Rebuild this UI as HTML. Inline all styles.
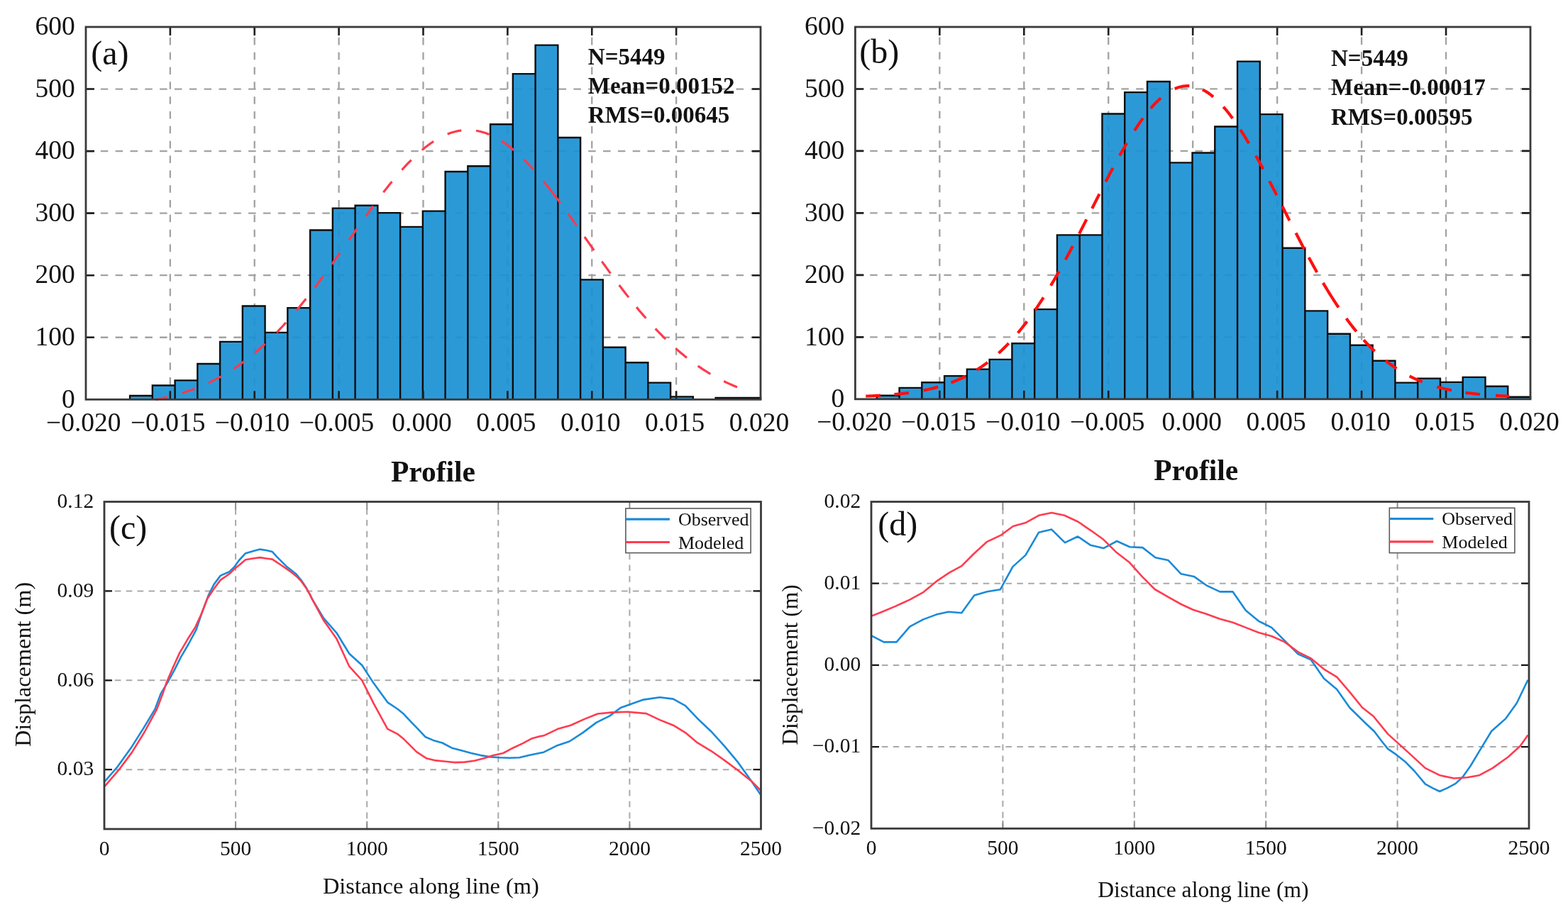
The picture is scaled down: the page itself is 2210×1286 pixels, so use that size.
<!DOCTYPE html>
<html><head><meta charset="utf-8"><title>Figure</title><style>html,body{margin:0;padding:0;background:#fff}svg{display:block}</style></head><body>
<svg width="2210" height="1286" viewBox="0 0 2210 1286">
<style>text{font-family:'Liberation Serif','Times New Roman',serif;fill:#111} .g{stroke:#a2a2a2;stroke-width:2.3;stroke-dasharray:10.5 10.33;fill:none} .g2{stroke:#a9a9a9;stroke-width:2.0;stroke-dasharray:8.6 7.27;fill:none} .ax{fill:none;stroke:#3a3a3a;stroke-width:2.8} .tk{stroke:#1e1e1e;stroke-width:2.6;fill:none}</style>
<rect width="2210" height="1286" fill="#fff"/>
<line x1="121" y1="475.75" x2="1072" y2="475.75" class="g"/>
<line x1="121" y1="388.2" x2="1072" y2="388.2" class="g"/>
<line x1="121" y1="300.65" x2="1072" y2="300.65" class="g"/>
<line x1="121" y1="213.1" x2="1072" y2="213.1" class="g"/>
<line x1="121" y1="125.55" x2="1072" y2="125.55" class="g"/>
<line x1="239.88" y1="563.3" x2="239.88" y2="38" class="g"/>
<line x1="358.75" y1="563.3" x2="358.75" y2="38" class="g"/>
<line x1="477.62" y1="563.3" x2="477.62" y2="38" class="g"/>
<line x1="596.5" y1="563.3" x2="596.5" y2="38" class="g"/>
<line x1="715.38" y1="563.3" x2="715.38" y2="38" class="g"/>
<line x1="834.25" y1="563.3" x2="834.25" y2="38" class="g"/>
<line x1="953.12" y1="563.3" x2="953.12" y2="38" class="g"/>
<path d="M183.1 563.3V558.05H214.85V563.3M214.85 563.3V543.43H246.6V563.3M246.6 563.3V536.42H278.35V563.3M278.35 563.3V512.96H310.1V563.3M310.1 563.3V481.88H341.85V563.3M341.85 563.3V431.54H373.6V563.3M373.6 563.3V468.83H405.35V563.3M405.35 563.3V434.08H437.1V563.3M437.1 563.3V324.55H468.85V563.3M468.85 563.3V293.65H500.6V563.3M500.6 563.3V289.71H532.35V563.3M532.35 563.3V300.12H564.1V563.3M564.1 563.3V319.91H595.85V563.3M595.85 563.3V297.59H627.6V563.3M627.6 563.3V241.99H659.35V563.3M659.35 563.3V234.29H691.1V563.3M691.1 563.3V175.19H722.85V563.3M722.85 563.3V104.1H754.6V563.3M754.6 563.3V63.65H786.35V563.3M786.35 563.3V194.01H818.1V563.3M818.1 563.3V394.33H849.85V563.3M849.85 563.3V489.76H881.6V563.3M881.6 563.3V511.21H913.35V563.3M913.35 563.3V539.66H945.1V563.3M945.1 563.3V559.36H976.85V563.3M1008.6 563.3V561.02H1040.35V563.3M1040.35 563.3V561.02H1072.1V563.3" fill="#1a90d4" fill-opacity="0.92" stroke="#0d0d0d" stroke-width="2.4" stroke-linejoin="miter"/>
<path d="M219 563.47L221.5 562.98L224 562.48L226.5 561.96L229 561.42L231.5 560.87L234 560.29L236.5 559.7M257 554.07L259.5 553.28L262 552.47L264.5 551.64L267 550.78L269.5 549.89L272 548.98L274.5 548.04M294 539.78L296.5 538.59L299 537.37L301.5 536.12L304 534.84L306.5 533.53L309 532.18L311.5 530.8M329 520.18L331.17 518.74L333.34 517.27L335.51 515.78L337.69 514.26L339.86 512.71L342.03 511.13L344.2 509.52M359.4 497.46L361.43 495.74L363.46 494L365.49 492.23L367.51 490.44L369.54 488.62L371.57 486.77L373.6 484.9M390 468.82L391.86 466.89L393.71 464.94L395.57 462.97L397.43 460.99L399.29 458.98L401.14 456.95L403 454.9M417.8 437.85L419.73 435.53L421.66 433.2L423.59 430.85L425.51 428.48L427.44 426.09L429.37 423.69L431.3 421.26M443.7 405.26L445.34 403.09L446.99 400.91L448.63 398.72L450.27 396.52L451.91 394.31L453.56 392.09L455.2 389.86M467.8 372.49L469.43 370.21L471.06 367.93L472.69 365.64L474.31 363.35L475.94 361.05L477.57 358.75L479.2 356.45M491.8 338.54L493.41 336.24L495.03 333.94L496.64 331.64L498.26 329.34L499.87 327.05L501.49 324.75L503.1 322.46M515.7 304.71L517.17 302.66L518.64 300.61L520.11 298.58L521.59 296.54L523.06 294.52L524.53 292.5L526 290.49M540.4 271.29L542.11 269.07L543.83 266.87L545.54 264.69L547.26 262.52L548.97 260.37L550.69 258.24L552.4 256.13M566.5 239.57L568.37 237.49L570.24 235.44L572.11 233.42L573.99 231.43L575.86 229.47L577.73 227.55L579.6 225.65M594.8 211.61L597.13 209.67L599.46 207.8L601.79 205.99L604.11 204.24L606.44 202.56L608.77 200.94L611.1 199.39M630.7 189.07L633.5 188L636.3 187.05L639.1 186.2L641.9 185.46L644.7 184.83L647.5 184.3L650.3 183.89M671 184.24L673.64 184.72L676.29 185.3L678.93 185.97L681.57 186.73L684.21 187.6L686.86 188.56L689.5 189.61M706.9 198.83L709.39 200.46L711.87 202.17L714.36 203.95L716.84 205.81L719.33 207.74L721.81 209.73L724.3 211.8M738.5 224.89L740.36 226.75L742.21 228.65L744.07 230.58L745.93 232.54L747.79 234.53L749.64 236.55L751.5 238.6M766 255.56L769.39 259.74L772.77 263.99L776.16 268.31L779.54 272.69L782.93 277.14L786.31 281.64L789.7 286.19M800.6 301.14L802.34 303.56L804.09 306L805.83 308.44L807.57 310.88L809.31 313.34L811.06 315.8L812.8 318.26M823.9 334.03L825.8 336.74L827.7 339.44L829.6 342.15L831.5 344.85L833.4 347.56L835.3 350.26L837.2 352.96M848.3 368.62L850.04 371.06L851.79 373.49L853.53 375.92L855.27 378.33L857.01 380.74L858.76 383.14L860.5 385.54M872.7 402L874.6 404.51L876.5 407.01L878.4 409.5L880.3 411.97L882.2 414.42L884.1 416.86L886 419.28M897.1 433.07L899 435.37L900.9 437.65L902.8 439.91L904.7 442.15L906.6 444.37L908.5 446.56L910.4 448.74M923.7 463.41L925.76 465.58L927.81 467.73L929.87 469.85L931.93 471.95L933.99 474.02L936.04 476.06L938.1 478.08M952.5 491.46L954.71 493.4L956.93 495.31L959.14 497.19L961.36 499.04L963.57 500.86L965.79 502.65L968 504.41M983.6 515.95L986.13 517.68L988.66 519.38L991.19 521.04L993.71 522.66L996.24 524.25L998.77 525.8L1001.3 527.31M1020.2 537.54L1022.89 538.84L1025.57 540.11L1028.26 541.34L1030.94 542.54L1033.63 543.71L1036.31 544.84L1039 545.94" fill="none" stroke="#ff3a4c" stroke-width="3.2" stroke-linecap="butt"/>
<path d="M239.88 563.3V551.3M239.88 38V50M358.75 563.3V551.3M358.75 38V50M477.62 563.3V551.3M477.62 38V50M596.5 563.3V551.3M596.5 38V50M715.38 563.3V551.3M715.38 38V50M834.25 563.3V551.3M834.25 38V50M953.12 563.3V551.3M953.12 38V50M121 475.75H133M1072 475.75H1060M121 388.2H133M1072 388.2H1060M121 300.65H133M1072 300.65H1060M121 213.1H133M1072 213.1H1060M121 125.55H133M1072 125.55H1060" class="tk"/>
<rect x="121" y="38" width="951" height="525.3" class="ax"/>
<text x="105.8" y="574.5" font-size="37.5" text-anchor="end" >0</text>
<text x="105.8" y="486.95" font-size="37.5" text-anchor="end" >100</text>
<text x="105.8" y="399.4" font-size="37.5" text-anchor="end" >200</text>
<text x="105.8" y="311.85" font-size="37.5" text-anchor="end" >300</text>
<text x="105.8" y="224.3" font-size="37.5" text-anchor="end" >400</text>
<text x="105.8" y="136.75" font-size="37.5" text-anchor="end" >500</text>
<text x="105.8" y="49.2" font-size="37.5" text-anchor="end" >600</text>
<text x="117.8" y="607.5" font-size="37.5" text-anchor="middle" >−0.020</text>
<text x="236.68" y="607.5" font-size="37.5" text-anchor="middle" >−0.015</text>
<text x="355.55" y="607.5" font-size="37.5" text-anchor="middle" >−0.010</text>
<text x="474.43" y="607.5" font-size="37.5" text-anchor="middle" >−0.005</text>
<text x="594.5" y="607.5" font-size="37.5" text-anchor="middle" >0.000</text>
<text x="713.38" y="607.5" font-size="37.5" text-anchor="middle" >0.005</text>
<text x="832.25" y="607.5" font-size="37.5" text-anchor="middle" >0.010</text>
<text x="951.12" y="607.5" font-size="37.5" text-anchor="middle" >0.015</text>
<text x="1070" y="607.5" font-size="37.5" text-anchor="middle" >0.020</text>
<text x="828.8" y="91.2" font-size="33" text-anchor="start" font-weight="bold" >N=5449</text>
<text x="828.8" y="132.4" font-size="33" text-anchor="start" font-weight="bold" >Mean=0.00152</text>
<text x="828.8" y="172.9" font-size="33" text-anchor="start" font-weight="bold" >RMS=0.00645</text>
<text x="128.3" y="91" font-size="48" text-anchor="start" >(a)</text>
<text x="610.5" y="678.9" font-size="41.5" text-anchor="middle" font-weight="bold" >Profile</text>
<line x1="1205.4" y1="475.33" x2="2157" y2="475.33" class="g"/>
<line x1="1205.4" y1="387.86" x2="2157" y2="387.86" class="g"/>
<line x1="1205.4" y1="300.39" x2="2157" y2="300.39" class="g"/>
<line x1="1205.4" y1="212.92" x2="2157" y2="212.92" class="g"/>
<line x1="1205.4" y1="125.45" x2="2157" y2="125.45" class="g"/>
<line x1="1324.35" y1="562.8" x2="1324.35" y2="38" class="g"/>
<line x1="1443.3" y1="562.8" x2="1443.3" y2="38" class="g"/>
<line x1="1562.25" y1="562.8" x2="1562.25" y2="38" class="g"/>
<line x1="1681.2" y1="562.8" x2="1681.2" y2="38" class="g"/>
<line x1="1800.15" y1="562.8" x2="1800.15" y2="38" class="g"/>
<line x1="1919.1" y1="562.8" x2="1919.1" y2="38" class="g"/>
<line x1="2038.05" y1="562.8" x2="2038.05" y2="38" class="g"/>
<path d="M1235.8 562.8V557.73H1267.57V562.8M1267.57 562.8V546.88H1299.33V562.8M1299.33 562.8V539.18H1331.1V562.8M1331.1 562.8V530.09H1362.86V562.8M1362.86 562.8V520.64H1394.63V562.8M1394.63 562.8V506.91H1426.4V562.8M1426.4 562.8V484.25H1458.16V562.8M1458.16 562.8V436.14H1489.93V562.8M1489.93 562.8V331.35H1521.69V562.8M1521.69 562.8V331.35H1553.46V562.8M1553.46 562.8V160.53H1585.23V562.8M1585.23 562.8V130.17H1616.99V562.8M1616.99 562.8V114.95H1648.76V562.8M1648.76 562.8V229.36H1680.52V562.8M1680.52 562.8V215.54H1712.29V562.8M1712.29 562.8V178.54H1744.06V562.8M1744.06 562.8V86.61H1775.82V562.8M1775.82 562.8V161.14H1807.59V562.8M1807.59 562.8V349.81H1839.35V562.8M1839.35 562.8V438.42H1871.12V562.8M1871.12 562.8V470.78H1902.89V562.8M1902.89 562.8V486.79H1934.65V562.8M1934.65 562.8V508.74H1966.42V562.8M1966.42 562.8V539.62H1998.18V562.8M1998.18 562.8V533.67H2029.95V562.8M2029.95 562.8V538.83H2061.72V562.8M2061.72 562.8V531.84H2093.48V562.8M2093.48 562.8V544.78H2125.25V562.8M2125.25 562.8V559.74H2157.01V562.8" fill="#1a90d4" fill-opacity="0.92" stroke="#0d0d0d" stroke-width="2.4" stroke-linejoin="miter"/>
<path d="M1220.3 558.62L1223.26 558.5L1226.21 558.38L1229.17 558.24L1232.13 558.1L1235.09 557.95L1238.04 557.79L1241 557.62M1260.4 556.18L1263.34 555.91L1266.29 555.62L1269.23 555.31L1272.17 554.98L1275.11 554.64L1278.06 554.27L1281 553.88M1301.7 550.47L1304.64 549.87L1307.59 549.24L1310.53 548.57L1313.47 547.87L1316.41 547.14L1319.36 546.37L1322.3 545.56M1340.4 539.62L1343.34 538.49L1346.29 537.3L1349.23 536.07L1352.17 534.77L1355.11 533.42L1358.06 532.01L1361 530.54M1376.5 521.74L1378.71 520.32L1380.93 518.87L1383.14 517.37L1385.36 515.84L1387.57 514.26L1389.79 512.63L1392 510.96M1407.5 498L1409.53 496.13L1411.56 494.22L1413.59 492.27L1415.61 490.27L1417.64 488.23L1419.67 486.15L1421.7 484.03M1434.6 469.51L1436.44 467.3L1438.29 465.04L1440.13 462.75L1441.97 460.42L1443.81 458.05L1445.66 455.65L1447.5 453.21M1459.1 437.03L1460.76 434.6L1462.41 432.14L1464.07 429.66L1465.73 427.15L1467.39 424.61L1469.04 422.04L1470.7 419.44M1481 402.71L1482.67 399.9L1484.34 397.07L1486.01 394.21L1487.69 391.33L1489.36 388.42L1491.03 385.5L1492.7 382.54M1501.7 366.29L1503.17 363.57L1504.64 360.85L1506.11 358.1L1507.59 355.35L1509.06 352.58L1510.53 349.8L1512 347.01M1521.1 329.52L1522.57 326.66L1524.04 323.79L1525.51 320.92L1526.99 318.04L1528.46 315.15L1529.93 312.26L1531.4 309.36M1539.2 293.97L1540.69 291.04L1542.17 288.11L1543.66 285.17L1545.14 282.24L1546.63 279.31L1548.11 276.39L1549.6 273.47M1558.4 256.31L1559.86 253.5L1561.31 250.69L1562.77 247.9L1564.23 245.12L1565.69 242.35L1567.14 239.6L1568.6 236.86M1578 219.56L1579.46 216.95L1580.91 214.35L1582.37 211.78L1583.83 209.23L1585.29 206.7L1586.74 204.2L1588.2 201.72M1599.1 184.01L1600.8 181.39L1602.5 178.82L1604.2 176.29L1605.9 173.8L1607.6 171.36L1609.3 168.97L1611 166.62M1621.9 152.79L1623.93 150.46L1625.96 148.21L1627.99 146.04L1630.01 143.95L1632.04 141.95L1634.07 140.03L1636.1 138.2M1655.7 125.19L1658.66 123.99L1661.61 123.01L1664.57 122.23L1667.53 121.66L1670.49 121.3L1673.44 121.15L1676.4 121.21M1694.9 126.37L1697.07 127.51L1699.24 128.75L1701.41 130.1L1703.59 131.56L1705.76 133.13L1707.93 134.8L1710.1 136.58M1724.3 150.63L1726.16 152.76L1728.01 154.97L1729.87 157.23L1731.73 159.56L1733.59 161.96L1735.44 164.41L1737.3 166.92M1748.2 182.8L1749.91 185.46L1751.63 188.17L1753.34 190.91L1755.06 193.69L1756.77 196.51L1758.49 199.37L1760.2 202.26M1770 219.41L1771.49 222.1L1772.97 224.8L1774.46 227.52L1775.94 230.26L1777.43 233.02L1778.91 235.79L1780.4 238.58M1789.2 255.38L1790.66 258.2L1792.11 261.03L1793.57 263.86L1795.03 266.71L1796.49 269.56L1797.94 272.41L1799.4 275.28M1807.2 290.65L1808.67 293.56L1810.14 296.47L1811.61 299.37L1813.09 302.28L1814.56 305.18L1816.03 308.08L1817.5 310.98M1826.5 328.58L1828.17 331.83L1829.84 335.06L1831.51 338.28L1833.19 341.49L1834.86 344.68L1836.53 347.86L1838.2 351.03M1844.6 363L1846.26 366.06L1847.91 369.09L1849.57 372.11L1851.23 375.12L1852.89 378.1L1854.54 381.05L1856.2 383.99M1864.8 398.87L1867.91 404.1L1871.03 409.24L1874.14 414.29L1877.26 419.25L1880.37 424.11L1883.49 428.87L1886.6 433.53M1897.5 449.05L1899.53 451.8L1901.56 454.51L1903.59 457.17L1905.61 459.79L1907.64 462.36L1909.67 464.89L1911.7 467.37M1922 479.3L1924.23 481.73L1926.46 484.11L1928.69 486.44L1930.91 488.72L1933.14 490.94L1935.37 493.11L1937.6 495.24M1953 508.57L1955.21 510.3L1957.43 511.98L1959.64 513.63L1961.86 515.22L1964.07 516.78L1966.29 518.29L1968.5 519.76M1986.6 530.29L1989.19 531.6L1991.77 532.85L1994.36 534.07L1996.94 535.23L1999.53 536.35L2002.11 537.44L2004.7 538.48M2025.3 545.42L2028.26 546.24L2031.21 547.02L2034.17 547.77L2037.13 548.47L2040.09 549.15L2043.04 549.78L2046 550.39M2065.4 553.65L2068.34 554.05L2071.29 554.43L2074.23 554.79L2077.17 555.12L2080.11 555.44L2083.06 555.74L2086 556.02M2108 557.67L2110.76 557.83L2113.51 557.98L2116.27 558.12L2119.03 558.25L2121.79 558.37L2124.54 558.49L2127.3 558.6" fill="none" stroke="#ff1010" stroke-width="4.2" stroke-linecap="butt"/>
<path d="M1324.35 562.8V550.8M1324.35 38V50M1443.3 562.8V550.8M1443.3 38V50M1562.25 562.8V550.8M1562.25 38V50M1681.2 562.8V550.8M1681.2 38V50M1800.15 562.8V550.8M1800.15 38V50M1919.1 562.8V550.8M1919.1 38V50M2038.05 562.8V550.8M2038.05 38V50M1205.4 475.33H1217.4M2157 475.33H2145M1205.4 387.86H1217.4M2157 387.86H2145M1205.4 300.39H1217.4M2157 300.39H2145M1205.4 212.92H1217.4M2157 212.92H2145M1205.4 125.45H1217.4M2157 125.45H2145" class="tk"/>
<rect x="1205.4" y="38" width="951.6" height="524.8" class="ax"/>
<text x="1190.2" y="574" font-size="37.5" text-anchor="end" >0</text>
<text x="1190.2" y="486.53" font-size="37.5" text-anchor="end" >100</text>
<text x="1190.2" y="399.06" font-size="37.5" text-anchor="end" >200</text>
<text x="1190.2" y="311.59" font-size="37.5" text-anchor="end" >300</text>
<text x="1190.2" y="224.12" font-size="37.5" text-anchor="end" >400</text>
<text x="1190.2" y="136.65" font-size="37.5" text-anchor="end" >500</text>
<text x="1190.2" y="49.18" font-size="37.5" text-anchor="end" >600</text>
<text x="1203.9" y="607" font-size="37.5" text-anchor="middle" >−0.020</text>
<text x="1322.85" y="607" font-size="37.5" text-anchor="middle" >−0.015</text>
<text x="1441.8" y="607" font-size="37.5" text-anchor="middle" >−0.010</text>
<text x="1560.75" y="607" font-size="37.5" text-anchor="middle" >−0.005</text>
<text x="1679.7" y="607" font-size="37.5" text-anchor="middle" >0.000</text>
<text x="1798.65" y="607" font-size="37.5" text-anchor="middle" >0.005</text>
<text x="1917.6" y="607" font-size="37.5" text-anchor="middle" >0.010</text>
<text x="2036.55" y="607" font-size="37.5" text-anchor="middle" >0.015</text>
<text x="2155.5" y="607" font-size="37.5" text-anchor="middle" >0.020</text>
<text x="1876" y="93.4" font-size="33" text-anchor="start" font-weight="bold" >N=5449</text>
<text x="1876" y="134" font-size="33" text-anchor="start" font-weight="bold" >Mean=-0.00017</text>
<text x="1876" y="176" font-size="33" text-anchor="start" font-weight="bold" >RMS=0.00595</text>
<text x="1211.3" y="89.3" font-size="48" text-anchor="start" >(b)</text>
<text x="1685.7" y="676.5" font-size="41.5" text-anchor="middle" font-weight="bold" >Profile</text>
<line x1="146" y1="833.4" x2="1072.5" y2="833.4" class="g2"/>
<line x1="146" y1="959.3" x2="1072.5" y2="959.3" class="g2"/>
<line x1="146" y1="1085.2" x2="1072.5" y2="1085.2" class="g2"/>
<line x1="332.1" y1="1170" x2="332.1" y2="707.5" class="g2"/>
<line x1="517.2" y1="1170" x2="517.2" y2="707.5" class="g2"/>
<line x1="702.3" y1="1170" x2="702.3" y2="707.5" class="g2"/>
<line x1="887.4" y1="1170" x2="887.4" y2="707.5" class="g2"/>
<polyline points="147.7,1101.9 165.4,1081.5 185.8,1052.9 202.1,1027.1 218.5,999.9 226.6,978.1 236.2,962.4 245.5,945.3 254.9,926.7 265.8,908 276.6,887.8 284.4,864.5 293.7,839.6 301.5,824.1 310.8,811.6 323.3,806.2 330,799.8 337,790 346.1,780.2 358,776.7 366.4,774.6 375.5,776 383.9,778.1 390.2,785.1 396.5,791.4 403.5,798.4 410.5,804 417.5,809.6 424.5,818 431.5,828.5 436.4,837.6 440,844.9 456.3,871.9 474.3,892.3 492.3,921.7 510.2,938 525,960.9 546.2,990.3 560,999.5 569,1006.8 578.1,1016.7 587.1,1025.8 599.8,1039.3 610.7,1043.9 623.3,1047.5 636.9,1054.7 650.5,1058.3 664.1,1062 677.6,1065.1 691.2,1067.4 704.8,1068.3 718.4,1068.8 731.9,1068.3 745.5,1065.1 760,1062 766.4,1060.7 785.4,1051.2 802.5,1045.5 821.5,1033.1 840.5,1018.9 859.5,1009.4 874.7,998 888,993.2 907,986.6 929.9,983.3 948.9,985.6 966,995.1 983.1,1013.2 1002.1,1031.2 1021.1,1052.1 1040.1,1074.9 1059.1,1101.5 1072,1120.5" fill="none" stroke="#1a8ad8" stroke-width="2.6" stroke-linejoin="round"/>
<polyline points="147.7,1108.7 168.1,1084.9 185.8,1061.1 203.5,1032.5 221.2,999.9 229.4,978.1 234.7,962.4 244,940.7 253.3,920.4 264.2,901.8 275.1,884.7 284.4,864.5 292.2,844.3 301.5,830.3 310.8,817.9 323.3,809.3 330,802.6 337,797 346.1,789.3 358,787.2 366.4,786.1 375.5,787.5 383.9,788.6 390.2,792.8 396.5,797 403.5,801.9 410.5,806.8 417.5,812.4 424.5,819.4 431.5,829.2 436.4,837.6 440,844.9 456.3,875.1 474.3,900.4 492.3,939.7 510.2,959.3 526.6,991.9 546.2,1027.9 560,1034.8 569,1042.1 578.1,1051.1 587.1,1060.2 600.7,1069.2 614.3,1072.4 627.9,1073.7 641.4,1075.1 655,1074.6 668.6,1072.8 682.2,1069.2 695.7,1065.1 709.3,1062 722.9,1054.7 736.5,1048.4 750,1041.2 760,1038.4 766.4,1037.3 787.3,1027.4 804.4,1022.7 823.4,1014.1 842.4,1006.5 861.4,1004.6 884.2,1003.7 910.9,1006.1 929.9,1015.1 948.9,1022.7 966,1033.1 983.1,1047.4 1002.1,1058.8 1021.1,1072.1 1040.1,1086.3 1059.1,1101.5 1072,1114.5" fill="none" stroke="#ff3c50" stroke-width="2.6" stroke-linejoin="round"/>
<path d="M332.1 1169V1158M332.1 707.5V718.5M517.2 1169V1158M517.2 707.5V718.5M702.3 1169V1158M702.3 707.5V718.5M887.4 1169V1158M887.4 707.5V718.5" stroke="#8a8a8a" stroke-width="1.9" fill="none"/>
<path d="M147 833.4H158M1072.5 833.4H1061.5M147 959.3H158M1072.5 959.3H1061.5M147 1085.2H158M1072.5 1085.2H1061.5" stroke="#141414" stroke-width="2.2" fill="none"/>
<rect x="147" y="707.5" width="925.5" height="461.5" class="ax"/>
<rect x="881.9" y="716.9" width="176.2" height="62.7" fill="#fff" stroke="#5a5a5a" stroke-width="1.6"/>
<line x1="881.9" y1="732.1" x2="943.9" y2="732.1" stroke="#1a8ad8" stroke-width="3.2"/>
<line x1="881.9" y1="764.5" x2="943.9" y2="764.5" stroke="#ff3c50" stroke-width="3.2"/>
<text x="955.9" y="740.5" font-size="26" text-anchor="start" >Observed</text>
<text x="955.9" y="773.9" font-size="26" text-anchor="start" >Modeled</text>
<text x="132.2" y="715.7" font-size="29.5" text-anchor="end" >0.12</text>
<text x="132.2" y="841.6" font-size="29.5" text-anchor="end" >0.09</text>
<text x="132.2" y="967.5" font-size="29.5" text-anchor="end" >0.06</text>
<text x="132.2" y="1093.4" font-size="29.5" text-anchor="end" >0.03</text>
<text x="147" y="1206" font-size="29.5" text-anchor="middle" >0</text>
<text x="332.1" y="1206" font-size="29.5" text-anchor="middle" >500</text>
<text x="517.2" y="1206" font-size="29.5" text-anchor="middle" >1000</text>
<text x="702.3" y="1206" font-size="29.5" text-anchor="middle" >1500</text>
<text x="887.4" y="1206" font-size="29.5" text-anchor="middle" >2000</text>
<text x="1072.5" y="1206" font-size="29.5" text-anchor="middle" >2500</text>
<text x="154" y="759.8" font-size="48" text-anchor="start" >(c)</text>
<text transform="translate(43.1,936.9) rotate(-90)" font-size="32.3" text-anchor="middle">Displacement (m)</text>
<text x="607.4" y="1259.6" font-size="32.4" text-anchor="middle" >Distance along line (m)</text>
<line x1="1227" y1="822.7" x2="2155" y2="822.7" class="g2"/>
<line x1="1227" y1="937.9" x2="2155" y2="937.9" class="g2"/>
<line x1="1227" y1="1053.1" x2="2155" y2="1053.1" class="g2"/>
<line x1="1413.4" y1="1169.3" x2="1413.4" y2="707.5" class="g2"/>
<line x1="1598.8" y1="1169.3" x2="1598.8" y2="707.5" class="g2"/>
<line x1="1784.2" y1="1169.3" x2="1784.2" y2="707.5" class="g2"/>
<line x1="1969.6" y1="1169.3" x2="1969.6" y2="707.5" class="g2"/>
<polyline points="1227.8,896.1 1245.7,905.4 1263.6,905.4 1282.2,883.7 1300.9,873.6 1319.6,866.6 1336.7,862.7 1355.3,864.2 1373.2,839.5 1391.4,834.3 1409.8,831.3 1427.4,799.1 1445.4,782.9 1464.1,750.7 1482.2,746.6 1501,765.2 1519.1,756.5 1537.2,768.8 1555.3,773.1 1574.2,763 1592.3,771.2 1610.4,772.1 1628.5,786.2 1646.6,790.1 1664.7,809.3 1682.8,812.9 1700.2,825.3 1719.4,834.4 1737.6,834.4 1755.8,860.7 1774,875.8 1792.2,884.9 1810.4,903.1 1829.6,922.3 1847.8,930.4 1866,956.7 1884.2,971.9 1902.4,998 1923.3,1018.5 1937.3,1031.8 1946.7,1044.2 1956,1055.9 1968.4,1064.4 1980.1,1073.7 1993.3,1087 2008.9,1105.6 2019,1111.1 2029.1,1116 2040,1111.1 2051.6,1104.9 2061.7,1095.5 2072.6,1080 2086.6,1056.6 2102.2,1031 2122.4,1013.1 2137.9,991.3 2153.5,958.7" fill="none" stroke="#1a8ad8" stroke-width="2.6" stroke-linejoin="round"/>
<polyline points="1227.8,868.9 1243.3,862.7 1262,854.9 1282.2,845.6 1300.9,835.4 1319.6,819.9 1338.2,807.4 1355.3,798.1 1372.4,781 1390.7,764.2 1411.3,754.3 1427.9,742 1446,736.9 1464.1,726.8 1482.2,722.9 1500.3,726.8 1519.1,735.5 1537.2,747.8 1555.3,760.8 1572.7,778.2 1591.5,792.7 1609.6,812.9 1627.7,831 1646.6,841.9 1664.7,852 1681.4,859.8 1700.2,865.7 1719.4,872.8 1737.6,877.8 1755.8,884.9 1774,892 1792.2,897 1810.4,905.1 1829.6,919.3 1847.8,928.4 1866,943.6 1884.2,954.7 1902.4,975.9 1920.1,997.8 1935.8,1010 1956,1034.9 1971.5,1048.9 1988.6,1064.4 2008.9,1083.1 2029.1,1093.2 2049.3,1097.5 2068,1096.3 2085.1,1093.2 2103.7,1083.1 2125.5,1067.5 2142.6,1052 2153.5,1036.4" fill="none" stroke="#ff3c50" stroke-width="2.6" stroke-linejoin="round"/>
<path d="M1413.4 1168.3V1157.3M1413.4 707.5V718.5M1598.8 1168.3V1157.3M1598.8 707.5V718.5M1784.2 1168.3V1157.3M1784.2 707.5V718.5M1969.6 1168.3V1157.3M1969.6 707.5V718.5" stroke="#8a8a8a" stroke-width="1.9" fill="none"/>
<path d="M1228 822.7H1239M2155 822.7H2144M1228 937.9H1239M2155 937.9H2144M1228 1053.1H1239M2155 1053.1H2144" stroke="#141414" stroke-width="2.2" fill="none"/>
<rect x="1228" y="707.5" width="927" height="460.8" class="ax"/>
<rect x="1958.3" y="716.3" width="176.6" height="63.3" fill="#fff" stroke="#5a5a5a" stroke-width="1.6"/>
<line x1="1958.3" y1="731.5" x2="2020.3" y2="731.5" stroke="#1a8ad8" stroke-width="3.2"/>
<line x1="1958.3" y1="763.9" x2="2020.3" y2="763.9" stroke="#ff3c50" stroke-width="3.2"/>
<text x="2032.3" y="739.9" font-size="26" text-anchor="start" >Observed</text>
<text x="2032.3" y="773.3" font-size="26" text-anchor="start" >Modeled</text>
<text x="1213.2" y="715.7" font-size="29.5" text-anchor="end" >0.02</text>
<text x="1213.2" y="830.9" font-size="29.5" text-anchor="end" >0.01</text>
<text x="1213.2" y="946.1" font-size="29.5" text-anchor="end" >0.00</text>
<text x="1213.2" y="1061.3" font-size="29.5" text-anchor="end" >−0.01</text>
<text x="1213.2" y="1176.5" font-size="29.5" text-anchor="end" >−0.02</text>
<text x="1228" y="1205" font-size="29.5" text-anchor="middle" >0</text>
<text x="1413.4" y="1205" font-size="29.5" text-anchor="middle" >500</text>
<text x="1598.8" y="1205" font-size="29.5" text-anchor="middle" >1000</text>
<text x="1784.2" y="1205" font-size="29.5" text-anchor="middle" >1500</text>
<text x="1969.6" y="1205" font-size="29.5" text-anchor="middle" >2000</text>
<text x="2155" y="1205" font-size="29.5" text-anchor="middle" >2500</text>
<text x="1237.2" y="754.9" font-size="48" text-anchor="start" >(d)</text>
<text transform="translate(1124.2,937.5) rotate(-90)" font-size="31.5" text-anchor="middle">Displacement (m)</text>
<text x="1695.9" y="1265.1" font-size="31.6" text-anchor="middle" >Distance along line (m)</text>
</svg>
</body></html>
